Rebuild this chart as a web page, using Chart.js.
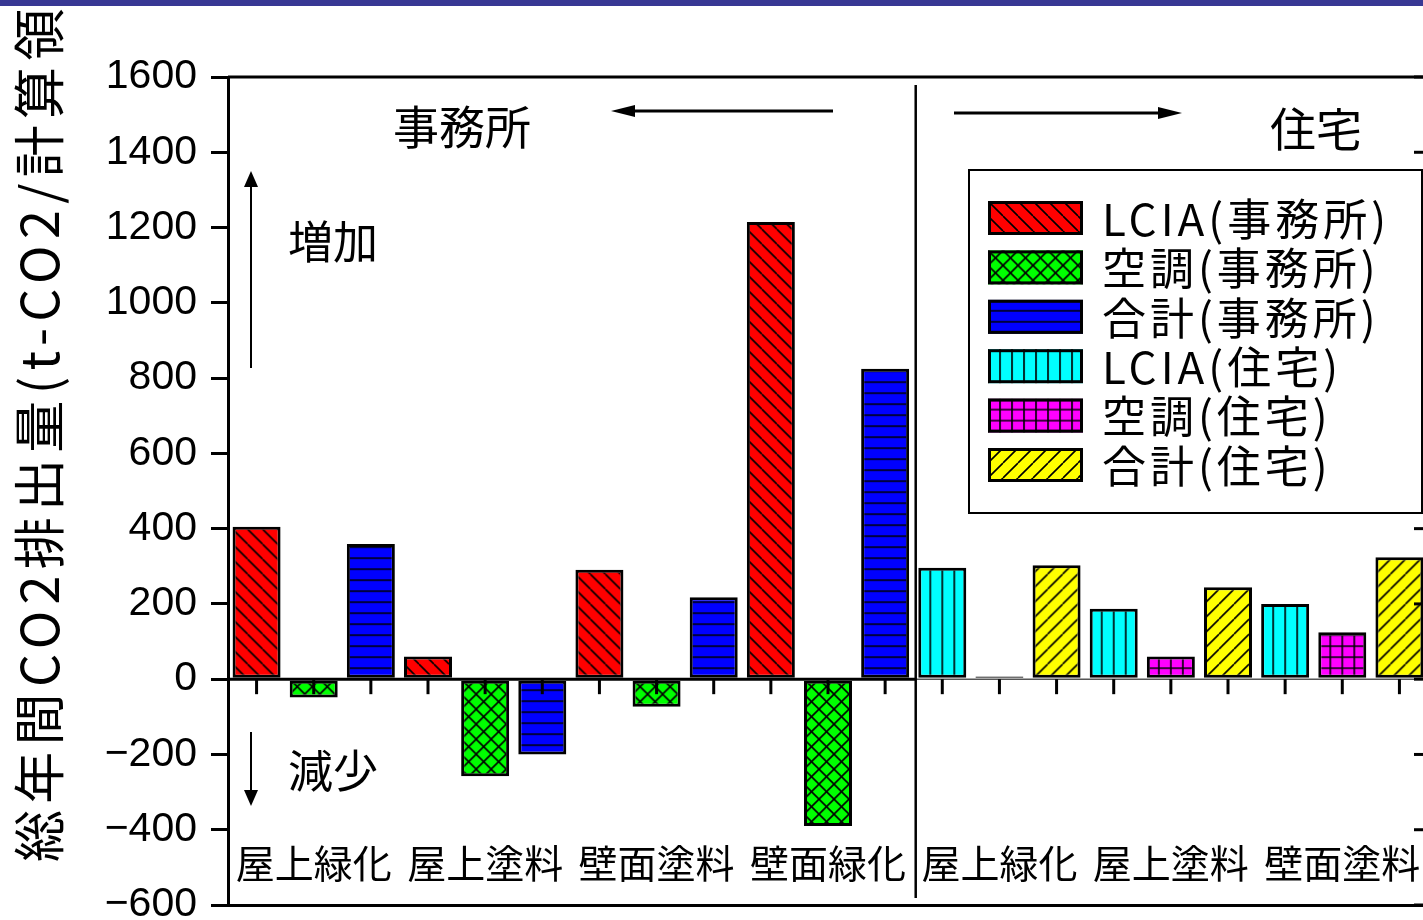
<!DOCTYPE html>
<html lang="ja">
<head>
<meta charset="utf-8">
<title>総年間CO2排出量</title>
<script src="https://cdn.jsdelivr.net/npm/chart.js@4.4.1/dist/chart.umd.min.js"></script>
<style>
  html, body { margin: 0; padding: 0; overflow: hidden; background: #fff; }
  #band { position: absolute; left: 0; top: 0; width: 100%; height: 6px; background: #383894; z-index: 2; }
  #wrap { position: absolute; left: 0; top: 0; width: 1440px; height: 950px; }
</style>
</head>
<body>
<div id="band"></div>
<div id="wrap"><canvas id="chart"></canvas></div>
<script>
// values (t-CO2 / year)
const officeCategories = ['屋上緑化', '屋上塗料', '壁面塗料', '壁面緑化'];
const houseCategories = ['屋上緑化', '屋上塗料', '壁面塗料'];

const officeLCIA = [405, 60, 291, 1215];
const officeAC = [-49, -258, -73, -390];
const officeTotal = [359, -200, 218, 825];

const houseLCIA = [296, 187, 200];
const houseAC = [7, 60, 125];
const houseTotal = [303, 244, 324];

const seriesNames = ['LCIA(事務所)', '空調(事務所)', '合計(事務所)', 'LCIA(住宅)', '空調(住宅)', '合計(住宅)'];
const seriesColors = ['#ff0000', '#00ff00', '#0000ff', '#00ffff', '#ff00ff', '#ffff00'];
const seriesHatch = ['back', 'cross', 'hline', 'vline', 'grid', 'fwd'];

const yMin = -600, yMax = 1600, yStep = 200;
const yTitle = '総年間CO2排出量(t-CO2/計算領域)';

const JP = '"Noto Sans CJK JP", "Noto Sans", sans-serif';
const barShare = 0.84;

// one slot per bar, three bars per category
const groupLabels = officeCategories.concat(houseCategories);
const nSlots = groupLabels.length * 3;
const slotLabels = [];
groupLabels.forEach((c, g) => { slotLabels.push(c + '-1', c + '-2', c + '-3'); });

function slotData(values, groupStart, which) {
    const arr = new Array(nSlots).fill(null);
    values.forEach((v, g) => { arr[(groupStart + g) * 3 + which] = v; });
    return arr;
}
const seriesValues = [
    slotData(officeLCIA, 0, 0), slotData(officeAC, 0, 1), slotData(officeTotal, 0, 2),
    slotData(houseLCIA, officeCategories.length, 0), slotData(houseAC, officeCategories.length, 1), slotData(houseTotal, officeCategories.length, 2)
];

const canvas = document.getElementById('chart');
const ctx2d = canvas.getContext('2d');

function hatch(kind, color, ox, oy) {
    const sizes = { back: [15, 15], fwd: [15, 15], cross: [15, 15], hline: [12, 11], vline: [12, 12], grid: [12, 11] };
    const [w, h] = sizes[kind];
    const c = document.createElement('canvas');
    c.width = w; c.height = h;
    const g = c.getContext('2d');
    g.fillStyle = color;
    g.fillRect(0, 0, w, h);
    g.strokeStyle = '#000';
    g.lineWidth = 1.6;
    g.beginPath();
    if (kind === 'back' || kind === 'cross') for (let k = -1; k <= 1; k++) { g.moveTo(k * w, 0); g.lineTo(k * w + w, h); }
    if (kind === 'fwd' || kind === 'cross') for (let k = -1; k <= 1; k++) { g.moveTo(k * w, h); g.lineTo(k * w + w, 0); }
    if (kind === 'hline' || kind === 'grid') { g.moveTo(0, 0); g.lineTo(w, 0); g.moveTo(0, h); g.lineTo(w, h); }
    if (kind === 'vline' || kind === 'grid') { g.moveTo(0, 0); g.lineTo(0, h); g.moveTo(w, 0); g.lineTo(w, h); }
    g.stroke();
    const p = ctx2d.createPattern(c, 'repeat');
    p.setTransform(new DOMMatrix([1, 0, 0, 1, ox, oy]));
    return p;
}

const datasets = seriesNames.map((name, i) => ({
    label: name,
    data: seriesValues[i],
    backgroundColor: (c) => {
        const xs = c.chart.scales.x, ys = c.chart.scales.y;
        if (!xs || !xs.width || c.dataIndex === undefined) return seriesColors[i];
        const left = xs.getPixelForValue(c.dataIndex) - xs.width / nSlots * barShare / 2;
        return hatch(seriesHatch[i], seriesColors[i], left, ys.getPixelForValue(0));
    },
    borderColor: '#000',
    borderWidth: 3,
    borderSkipped: false,
    categoryPercentage: 1,
    barPercentage: barShare,
    skipNull: true
}));

function arrow(g, x1, y1, x2, y2, head, half) {
    const a = Math.atan2(y2 - y1, x2 - x1);
    const bx = x2 - head * Math.cos(a), by = y2 - head * Math.sin(a);
    g.beginPath(); g.moveTo(x1, y1); g.lineTo(bx, by); g.stroke();
    g.beginPath();
    g.moveTo(x2, y2);
    g.lineTo(bx + half * Math.sin(a), by - half * Math.cos(a));
    g.lineTo(bx - half * Math.sin(a), by + half * Math.cos(a));
    g.closePath(); g.fill();
}

const overlay = {
    id: 'overlay',
    afterDraw(chart) {
        const g = chart.ctx;
        const xs = chart.scales.x, ys = chart.scales.y;
        const area = chart.chartArea;
        const y0 = ys.getPixelForValue(0);
        const split = xs.getPixelForValue(officeCategories.length * 3 - 0.5) + 2;
        g.save();
        g.fillStyle = '#000';
        g.strokeStyle = '#000';

        // frame top
        g.lineWidth = 3;
        g.beginPath(); g.moveTo(area.left, area.top); g.lineTo(area.right, area.top); g.stroke();

        // zero line
        g.lineWidth = 3;
        g.beginPath(); g.moveTo(area.left, y0); g.lineTo(split, y0); g.stroke();
        g.strokeStyle = '#555';
        g.lineWidth = 1.5;
        g.beginPath(); g.moveTo(split, y0); g.lineTo(area.right, y0); g.stroke();
        g.strokeStyle = '#000';

        // ticks at each bar
        g.lineWidth = 3;
        for (let i = 0; i < nSlots; i++) {
            const x = xs.getPixelForValue(i);
            g.beginPath(); g.moveTo(x, y0); g.lineTo(x, y0 + 15); g.stroke();
        }

        // inward ticks of the right axis
        for (let v = yMin; v <= yMax; v += yStep) {
            const y = ys.getPixelForValue(v);
            g.beginPath(); g.moveTo(area.right - 14, y); g.lineTo(area.right, y); g.stroke();
        }

        // divider office / house
        g.lineWidth = 2.5;
        g.beginPath(); g.moveTo(split, 85); g.lineTo(split, 898); g.stroke();

        // arrows
        g.lineWidth = 3;
        arrow(g, 833, 111, 611, 111, 24, 6);
        arrow(g, 954, 113, 1182, 113, 24, 6);
        g.lineWidth = 2;
        arrow(g, 251, 368, 251, 171, 16, 7);
        arrow(g, 251, 732, 251, 806, 16, 7);

        // annotations
        g.textAlign = 'center';
        g.textBaseline = 'middle';
        g.font = '46px ' + JP;
        g.fillText('事務所', 462, 127);
        g.fillText('住宅', 1316, 129);
        g.font = '45px ' + JP;
        g.fillText('増加', 333, 242);
        g.fillText('減少', 333, 771);

        // category labels inside the plot
        g.font = '39px ' + JP;
        groupLabels.forEach((c, k) => {
            g.fillText(c, xs.getPixelForValue(k * 3 + 1), 863);
        });

        // legend
        const lx = 969, ly = 170, lw = 453, lh = 343;
        g.fillStyle = '#fff';
        g.fillRect(lx, ly, lw, lh);
        g.lineWidth = 2;
        g.strokeRect(lx, ly, lw, lh);
        g.textAlign = 'left';
        g.font = '44px ' + JP;
        g.letterSpacing = '4px';
        seriesNames.forEach((name, i) => {
            const top = 201 + i * 49.4;
            g.fillStyle = hatch(seriesHatch[i], seriesColors[i], 988, top);
            g.fillRect(988, top, 95, 34);
            g.lineWidth = 3;
            g.strokeRect(989.5, top + 1.5, 92, 31);
            g.fillStyle = '#000';
            g.fillText(name, 1102, top + 18);
        });

        // y axis title
        g.translate(39, 862);
        g.rotate(-Math.PI / 2);
        g.font = '52px ' + JP;
        g.letterSpacing = '6.3px';
        g.textAlign = 'left';
        g.fillText(yTitle, 0, 0);
        g.restore();
    }
};

new Chart(canvas, {
    type: 'bar',
    data: { labels: slotLabels, datasets: datasets },
    options: {
        responsive: true,
        maintainAspectRatio: false,
        animation: false,
        events: [],
        layout: { padding: { top: 77, right: 12, left: 0, bottom: 0 } },
        plugins: { legend: { display: false }, tooltip: { enabled: false } },
        scales: {
            x: {
                type: 'category',
                offset: true,
                ticks: { display: false },
                grid: { display: false },
                border: { display: true, color: '#000', width: 3 },
                afterFit: s => { s.height = 45; }
            },
            y: {
                min: yMin,
                max: yMax,
                ticks: {
                    stepSize: yStep,
                    color: '#000',
                    padding: 14,
                    font: { family: '"Liberation Sans", Arial, sans-serif', size: 41 },
                    callback: v => String(v).replace('-', '\u2212')
                },
                grid: { drawOnChartArea: false, drawTicks: true, tickLength: 17, tickWidth: 3, lineWidth: 3, color: '#000' },
                border: { display: true, color: '#000', width: 3 },
                afterFit: s => { s.width = 228; }
            }
        }
    },
    plugins: [overlay]
});
</script>
</body>
</html>
